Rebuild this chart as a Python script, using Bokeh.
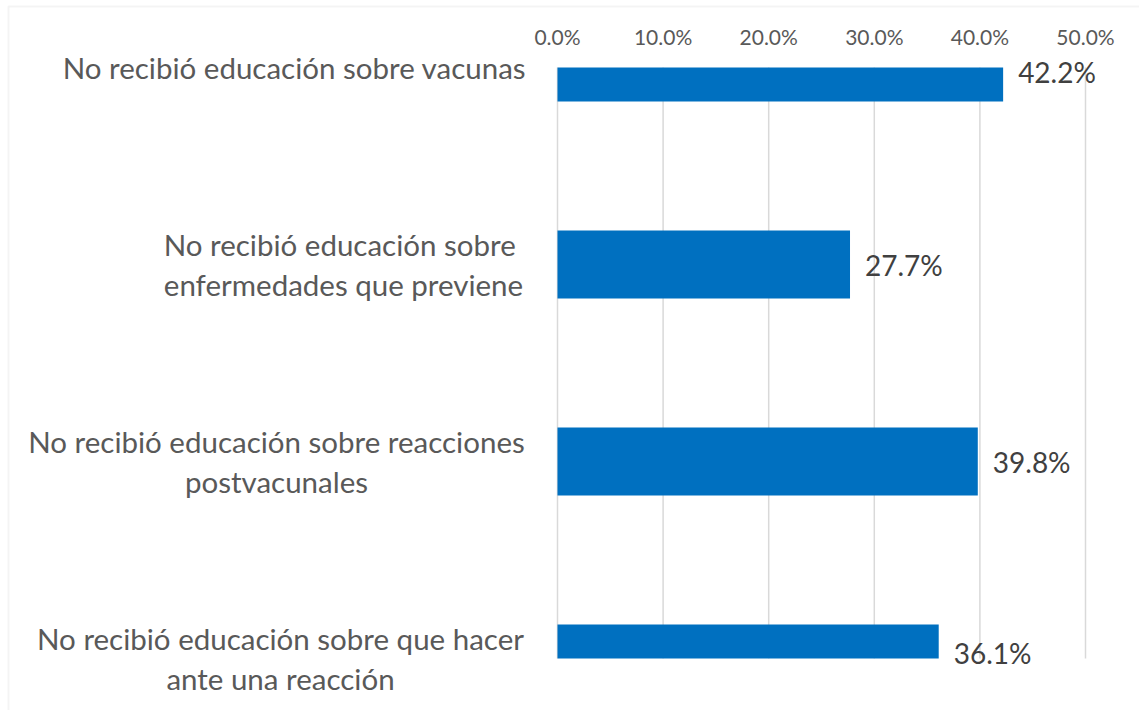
from bokeh.plotting import figure
from bokeh.models import ColumnDataSource, Range1d, BoxAnnotation
from bokeh.core.properties import value
from bokeh.embed import file_html
from bokeh.resources import INLINE
import numpy as np

categories = [
    "No recibió educación sobre vacunas",
    "No recibió educación sobre \nenfermedades que previene",
    "No recibió educación sobre reacciones\npostvacunales",
    "No recibió educación sobre que hacer\nante una reacción",
]
values = [42.2, 27.7, 39.8, 36.1]
value_labels = ["42.2%", "27.7%", "39.8%", "36.1%"]
x_ticks = [0, 10, 20, 30, 40, 50]
x_tick_labels = ["0.0%", "10.0%", "20.0%", "30.0%", "40.0%", "50.0%"]

# layout (pixels)
W, H = 1139, 710
PLOT_L, PLOT_R, PLOT_T, PLOT_B = 557, 1085, 67, 658
BAR_H = 0.345
# horizontal offsets (px) of category label block centres from the value axis origin
label_center_offsets = [-263, -214, -281, -277]

FONT = value("Lato")
GRAY = "#595959"

n = len(categories)
pos = np.arange(n, dtype=float)
xmax = x_ticks[-1]
px_x = (PLOT_R - PLOT_L) / xmax
px_y = (PLOT_B - PLOT_T) / (n - 1)

p = figure(width=W, height=H, output_backend="svg", toolbar_location=None,
           x_range=Range1d(-PLOT_L / px_x, (W - PLOT_L) / px_x),
           y_range=Range1d((H - PLOT_T) / px_y, -PLOT_T / px_y),
           x_axis_location=None, y_axis_location=None,
           min_border=0)
p.outline_line_color = None
p.grid.grid_line_color = None
p.background_fill_color = "white"
p.border_fill_color = "white"

# gridlines
p.segment(x0=x_ticks, x1=x_ticks, y0=[0] * len(x_ticks), y1=[n - 1] * len(x_ticks),
          line_color="#D9D9D9", line_width=1.5)

# tick labels
p.text(x=x_ticks, y=[0] * len(x_ticks), text=x_tick_labels, y_offset=-31,
       text_align="center", text_baseline="middle", text_font=FONT,
       text_font_size="21px", text_color=GRAY)

# bars, clipped to the plot area
src = ColumnDataSource(dict(
    top=np.clip(pos - BAR_H / 2, 0, n - 1),
    bottom=np.clip(pos + BAR_H / 2, 0, n - 1),
    left=[0] * n,
    right=values,
))
p.quad(left="left", right="right", top="top", bottom="bottom", source=src,
       fill_color="#0070C0", line_color=None)

# value labels
p.text(x=values, y=np.clip(pos, 0.025, n - 1 - 0.03), text=value_labels, x_offset=15,
       text_align="left", text_baseline="middle", text_font=FONT,
       text_font_size="28px", text_color="#404040")

# category labels
p.text(x=[0] * n, y=pos, text=categories, x_offset=label_center_offsets,
       text_align="center", text_baseline="middle", text_line_height=1.13,
       text_font=FONT, text_font_size="29.5px", text_color=GRAY)

# chart border
p.add_layout(BoxAnnotation(left=8, top=6, right=W + 50, bottom=H + 50,
                           left_units="canvas", right_units="canvas",
                           top_units="canvas", bottom_units="canvas",
                           fill_color=None, line_color="#D9D9D9", line_width=2))

open("out.html", "w").write(file_html(p, INLINE))
